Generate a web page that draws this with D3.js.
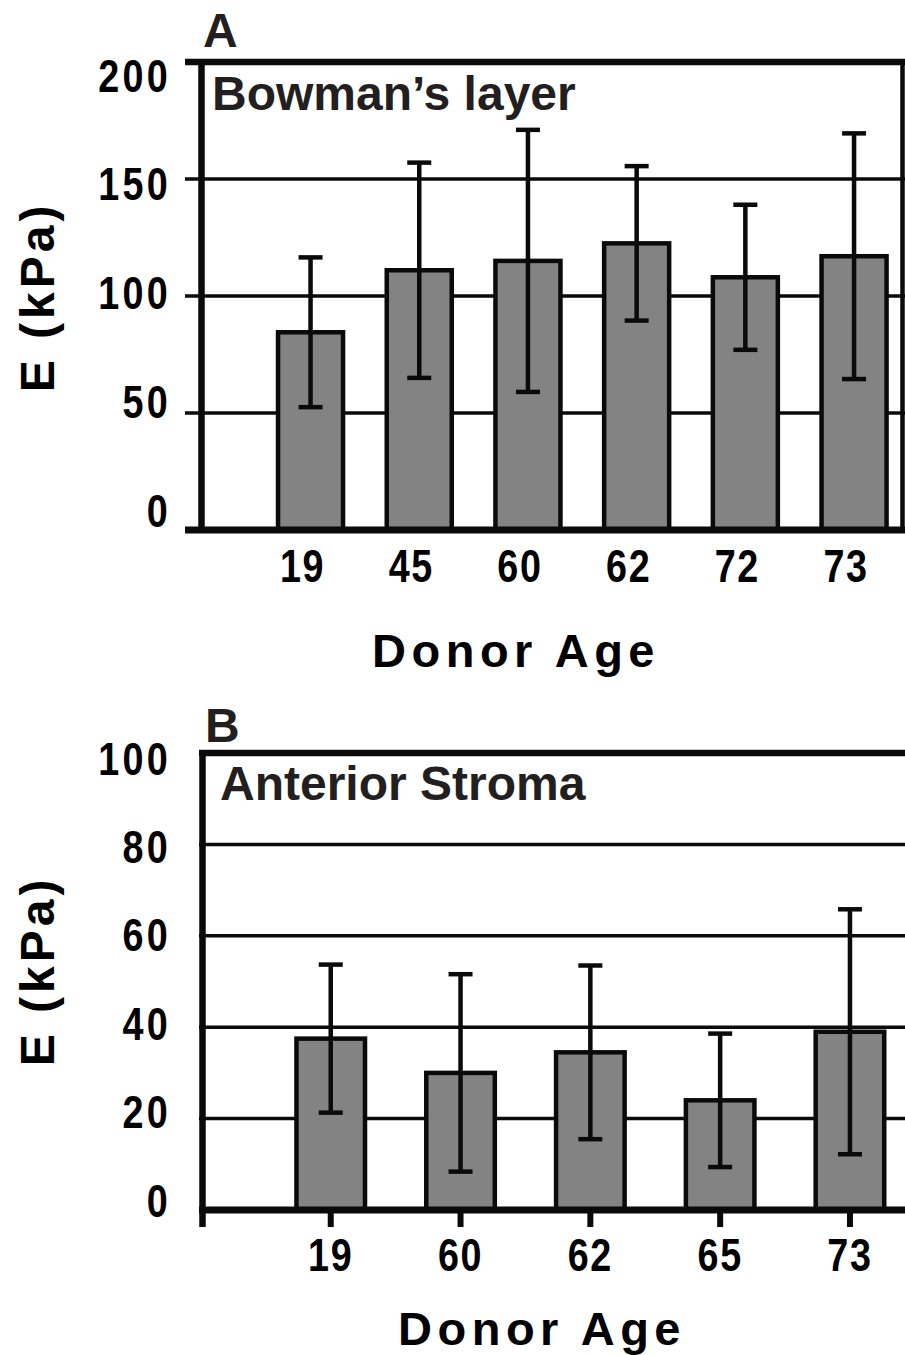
<!DOCTYPE html>
<html><head><meta charset="utf-8">
<script src="https://cdn.jsdelivr.net/npm/d3@7"></script>
<style>body{margin:0;background:#fff}svg{display:block}</style>
</head><body>
<script>
// ---- data ----
const agesA = ["19","45","60","62","72","73"];
const meanA = [84.5,111,115,122.5,108,117];
const sdA   = [32,46,56,33,31,52.5];
const ticksA = [0,50,100,150,200];

const agesB = ["19","60","62","65","73"];
const meanB = [37.5,30,34.5,24,39];
const sdB   = [16.2,21.6,19,14.6,26.8];
const ticksB = [0,20,40,60,80,100];

const INK="#0a0a0a", TXT="#231f20", FILL="#828382";
const FONT="'Liberation Sans', Arial, Helvetica, sans-serif";
const NARROW=0.82;

const svg = d3.select("body").append("svg").attr("width",905).attr("height",1355);

function panel(o){
  const g = svg.append("g");
  const y  = d3.scaleLinear().domain([0,o.ymax]).range([o.y0,o.y1]);
  const yl = d3.scaleLinear().domain([0,o.ymax]).range(o.labRange);
  const x  = d3.scaleBand().domain(o.cats).range(o.xr).paddingInner(o.pi).paddingOuter(0.2);
  const data = o.cats.map((c,i)=>({c, m:o.means[i], s:o.sds[i]}));

  // gridlines
  g.selectAll("line.grid").data(o.ticks.filter(t=>t>0&&t<o.ymax)).join("line")
    .attr("x1",o.gx0).attr("x2",o.right).attr("y1",d=>y(d)).attr("y2",d=>y(d))
    .attr("stroke",INK).attr("stroke-width",3.5);

  // bars
  g.selectAll("rect.bar").data(data).join("rect")
    .attr("x",d=>x(d.c)).attr("width",x.bandwidth())
    .attr("y",d=>y(d.m)).attr("height",d=>y(0)-y(d.m))
    .attr("fill",FILL).attr("stroke",INK).attr("stroke-width",4.5);

  // error bars
  const eb = g.selectAll("g.eb").data(data).join("g")
    .attr("transform",d=>`translate(${x(d.c)+x.bandwidth()/2},0)`);
  eb.append("line").attr("y1",d=>y(d.m-d.s)).attr("y2",d=>y(d.m+d.s))
    .attr("stroke",INK).attr("stroke-width",4.5);
  eb.append("line").attr("x1",-12).attr("x2",12).attr("y1",d=>y(d.m+d.s)).attr("y2",d=>y(d.m+d.s))
    .attr("stroke",INK).attr("stroke-width",4.5);
  eb.append("line").attr("x1",-12).attr("x2",12).attr("y1",d=>y(d.m-d.s)).attr("y2",d=>y(d.m-d.s))
    .attr("stroke",INK).attr("stroke-width",4.5);

  // frame
  g.append("line").attr("x1",o.gx0).attr("x2",o.right).attr("y1",y(o.ymax)).attr("y2",y(o.ymax))
    .attr("stroke",INK).attr("stroke-width",6.5);
  g.append("line").attr("x1",o.ax).attr("x2",o.ax).attr("y1",y(o.ymax)-3).attr("y2",y(0)+o.axExt)
    .attr("stroke",INK).attr("stroke-width",6.5);
  if(o.rightBorder){
    g.append("line").attr("x1",o.rightBorder).attr("x2",o.rightBorder).attr("y1",y(o.ymax)).attr("y2",y(0))
      .attr("stroke",INK).attr("stroke-width",4.5);
  }

  // x axis
  const xa = g.append("g").attr("transform",`translate(0,${y(0)})`)
    .call(d3.axisBottom(x).tickSize(o.tickSize).tickPadding(o.tickPad));
  xa.select(".domain").remove();
  xa.selectAll(".tick line").attr("stroke",INK).attr("stroke-width",6);
  xa.selectAll(".tick text")
    .attr("transform",`scale(${NARROW},1)`)
    .attr("dx",o.labDx/NARROW)
    .attr("fill","#000").attr("font-family",FONT).attr("font-weight","bold")
    .attr("font-size",46).attr("letter-spacing",2);
  g.append("line").attr("x1",o.gx0).attr("x2",905).attr("y1",y(0)).attr("y2",y(0))
    .attr("stroke",INK).attr("stroke-width",7);

  // y tick labels
  g.selectAll("text.yl").data(o.ticks).join("text")
    .attr("transform",d=>`translate(171,${yl(d)}) scale(${NARROW},1)`)
    .attr("text-anchor","end").attr("dy","0.36em")
    .attr("fill","#000").attr("font-family",FONT).attr("font-weight","bold")
    .attr("font-size",46).attr("letter-spacing",4)
    .text(d=>d);

  // panel letter
  g.append("text").attr("x",o.letterX).attr("y",o.letterY).text(o.letter)
    .attr("fill",TXT).attr("font-family",FONT).attr("font-weight","bold").attr("font-size",48);
  // inner title
  g.append("text").attr("x",o.titleX).attr("y",o.titleY).text(o.title)
    .attr("fill",TXT).attr("font-family",FONT).attr("font-weight","bold").attr("font-size",48);
  // y title
  g.append("text").attr("transform",`translate(54,${o.yTitleY}) rotate(-90)`)
    .attr("text-anchor","middle").text("E (kPa)")
    .attr("fill","#000").attr("font-family",FONT).attr("font-weight","bold")
    .attr("font-size",48).attr("letter-spacing",4);
  // x title
  g.append("text").attr("x",o.xTitleX).attr("y",o.xTitleY).attr("text-anchor","middle")
    .text("Donor Age")
    .attr("fill","#000").attr("font-family",FONT).attr("font-weight","bold")
    .attr("font-size",47).attr("letter-spacing",5.5);
}

panel({
  cats:agesA, means:meanA, sds:sdA, ticks:ticksA, ymax:200,
  y0:530, y1:62, labRange:[510,75],
  xr:[256.3,908.3], pi:0.402,
  gx0:185, right:905, ax:201.5, axExt:3, rightBorder:902.5,
  tickSize:0, tickPad:19, labDx:-8,
  letter:"A", letterX:203, letterY:47,
  title:"Bowman\u2019s layer", titleX:212, titleY:110,
  yTitleY:297, xTitleX:516, xTitleY:667
});

panel({
  cats:agesB, means:meanB, sds:sdB, ticks:ticksB, ymax:100,
  y0:1210, y1:753, labRange:[1200,758],
  xr:[270.5,910.2], pi:0.472,
  gx0:199, right:905, ax:202.5, axExt:17, rightBorder:null,
  tickSize:17, tickPad:11, labDx:0,
  letter:"B", letterX:205, letterY:742,
  title:"Anterior Stroma", titleX:220, titleY:800,
  yTitleY:971, xTitleX:542, xTitleY:1345
});
</script>
</body></html>
